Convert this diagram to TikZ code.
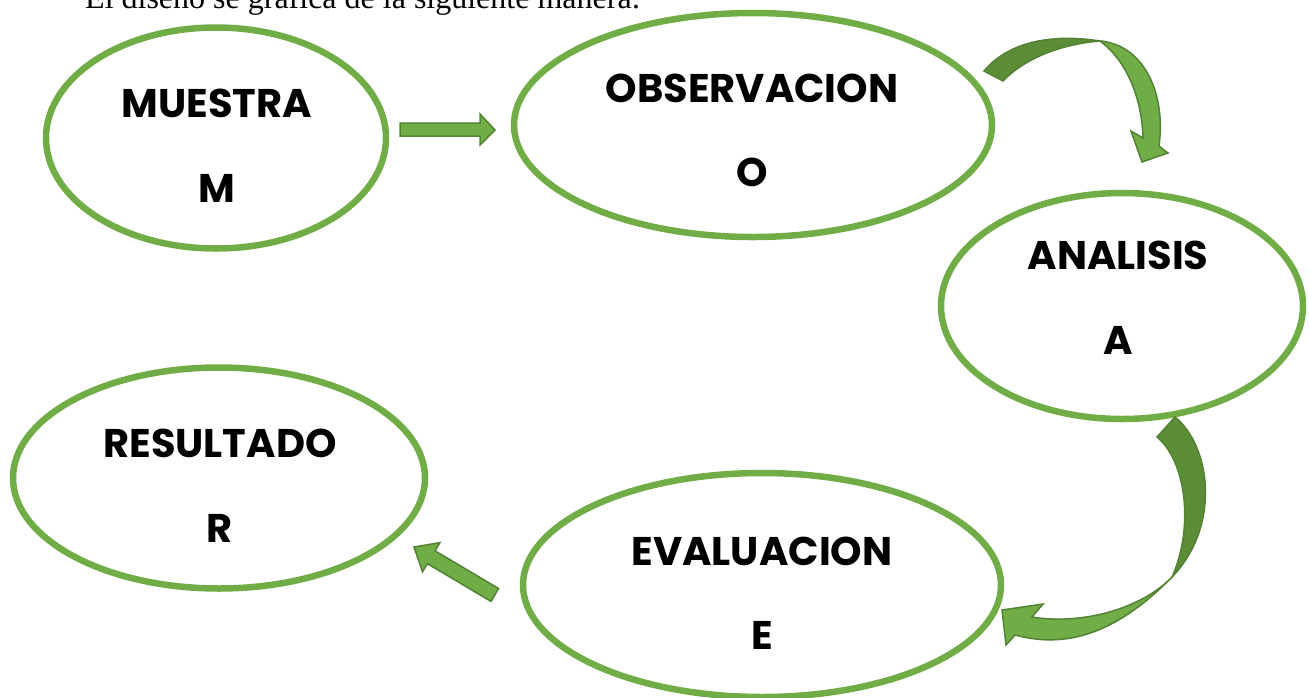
\documentclass[tikz,border=0pt]{standalone}
\usepackage{fontspec}
\setmainfont{Liberation Serif}
\newfontfamily\lblfont{Poppins}
\usetikzlibrary{shapes.geometric}
\definecolor{og}{HTML}{70AD47}
\definecolor{dg}{HTML}{548235}
\definecolor{dgfill}{HTML}{5B8C36}
\tikzset{
  stage/.style 2 args={draw=og, line width=6.5pt, ellipse, inner sep=0pt, minimum width=#1, minimum height=#2},
  lbl/.style={font=\lblfont\bfseries\fontsize{40}{44}\selectfont, inner sep=0pt},
  blockarrow/.style={fill=og, draw=dg, line width=1.5pt, line join=miter},
  darkband/.style={fill=dgfill, draw=dg, line width=1.5pt, line join=miter}
}
\begin{document}
\begin{tikzpicture}[x=1pt,y=-1pt]
\useasboundingbox (0,0) rectangle (1309,697);
\begin{scope}
\clip (0,0) rectangle (1309,697);
\node[anchor=base west, font=\fontsize{32}{36}\selectfont, inner sep=0pt] (intro) at (85,8) {El diseño se grafica de la siguiente manera:};

% stages
\node[stage={340pt}{221pt}] (m) at (216,138) {};
\node[stage={478pt}{224pt}] (o) at (753,125) {};
\node[stage={362pt}{226pt}] (a) at (1122,306) {};
\node[stage={412pt}{221pt}] (r) at (219,478) {};
\node[stage={478pt}{224pt}] (e) at (762,585) {};

\node[lbl] (mt) at (217,103) {MUESTRA};
\node[lbl] (mb) at (217,188) {M};
\node[lbl] (ot) at (752,88) {OBSERVACION};
\node[lbl] (ob) at (752,172) {O};
\node[lbl] (at) at (1118,255) {ANALISIS};
\node[lbl] (ab) at (1118,340) {A};
\node[lbl] (rt) at (220,443) {RESULTADO};
\node[lbl] (rb) at (220,528) {R};
\node[lbl] (et) at (762,551) {EVALUACION};
\node[lbl] (eb) at (762,635) {E};

% straight arrow M -> O
\draw[blockarrow] (400,123) -- (480,123) -- (480,114) -- (495,130) -- (480,145) -- (480,136) -- (400,136) -- cycle;

% curved arrow O -> A
\draw[darkband] (984,71) .. controls (1010,40) and (1055,34) .. (1100,41)
   .. controls (1062,44) and (1025,58) .. (1003,81) -- cycle;
\draw[blockarrow] (1100,41) .. controls (1145,45) and (1166,95) .. (1159,146)
   -- (1168,153) -- (1142,162) -- (1131,131) -- (1143,138)
   .. controls (1142,100) and (1128,62) .. (1100,41) -- cycle;

% curved arrow A -> E
\draw[darkband] (1175,417) .. controls (1210,445) and (1222,525) .. (1172,577)
   .. controls (1195,525) and (1185,460) .. (1157,437) -- cycle;
\draw[blockarrow] (1172,577) .. controls (1120,630) and (1070,650) .. (1015,635)
   -- (1006,645) -- (1002,610) -- (1043,604) -- (1032,617)
   .. controls (1080,625) and (1140,610) .. (1172,577) -- cycle;

% straight arrow E -> R
\draw[blockarrow] (414,547) -- (439.9,542.6) -- (435.0,550.8) -- (498.6,588.5)
   -- (491.0,601.4) -- (427.4,563.7) -- (422.5,571.8) -- cycle;
\end{scope}
\end{tikzpicture}
\end{document}
